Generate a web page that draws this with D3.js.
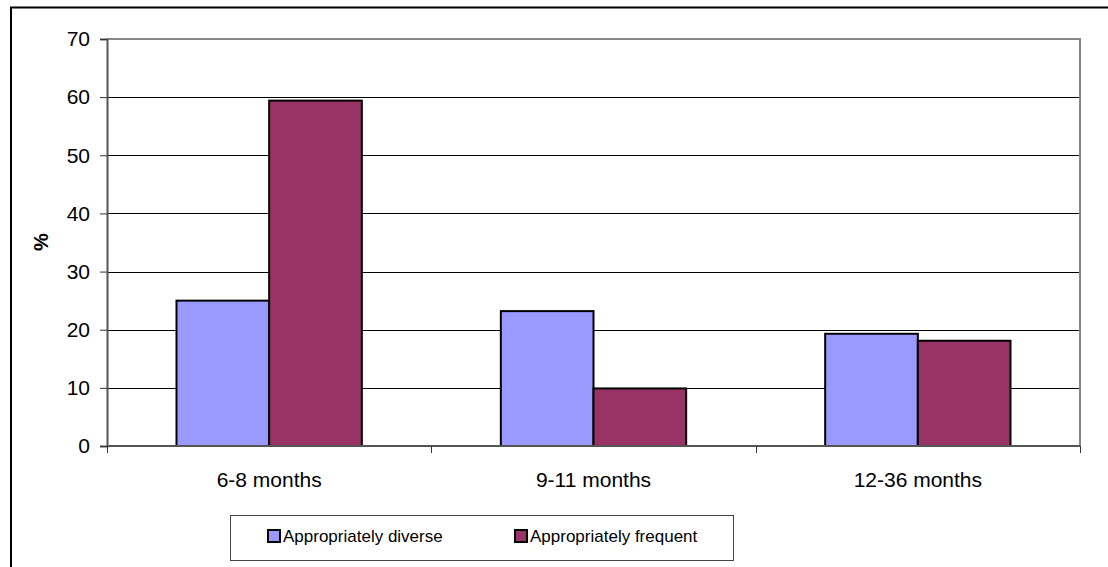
<!DOCTYPE html>
<html>
<head>
<meta charset="utf-8">
<script src="https://cdn.jsdelivr.net/npm/d3@7"></script>
<style>
  html, body { margin: 0; padding: 0; background: #fff; }
  svg { display: block; font-family: Arial, "Liberation Sans", sans-serif; }
</style>
</head>
<body>
<svg id="chart" width="1108" height="567"></svg>
<script>
// Age groups and the share (%) of children meeting each feeding indicator
const categories = ["6-8 months", "9-11 months", "12-36 months"];
const seriesNames = ["Appropriately diverse", "Appropriately frequent"];
const diverseValues = [25.0, 23.2, 19.3];
const frequentValues = [59.4, 9.9, 18.1];
const yTicks = [0, 10, 20, 30, 40, 50, 60, 70];
const seriesColors = ["#9999FF", "#993366"];

const rows = categories.map((c, i) => ({
  category: c,
  values: [
    { series: seriesNames[0], value: diverseValues[i] },
    { series: seriesNames[1], value: frequentValues[i] }
  ]
}));

const svg = d3.select("#chart");
const plot = { left: 107, right: 1080, top: 39, bottom: 446 };

const x0 = d3.scaleBand().domain(categories).range([plot.left, plot.right]).padding(0);
const x1 = d3.scaleBand().domain(seriesNames).range([0, x0.bandwidth()])
  .paddingInner(0).paddingOuter(0.75);
const y = d3.scaleLinear().domain([0, 70]).range([plot.bottom, plot.top]);
const color = d3.scaleOrdinal().domain(seriesNames).range(seriesColors);

// Outer chart frame (left and top edges fall inside the canvas)
svg.append("line").attr("x1", 11).attr("x2", 11).attr("y1", 7.5).attr("y2", 567)
  .attr("stroke", "#000").attr("stroke-width", 2);
svg.append("line").attr("x1", 10).attr("x2", 1108).attr("y1", 7.5).attr("y2", 7.5)
  .attr("stroke", "#000").attr("stroke-width", 2);

// Horizontal gridlines
svg.append("g")
  .selectAll("line")
  .data(yTicks.filter(t => t > 0 && t < 70))
  .join("line")
  .attr("x1", plot.left).attr("x2", plot.right)
  .attr("y1", d => Math.round(y(d)) + 0.5).attr("y2", d => Math.round(y(d)) + 0.5)
  .attr("stroke", "#000").attr("stroke-width", 1);

// Plot area border (top and right)
svg.append("path")
  .attr("d", `M${plot.left},${plot.top} H${plot.right} V${plot.bottom}`)
  .attr("fill", "none").attr("stroke", "#888").attr("stroke-width", 2);

// Bars
const groups = svg.append("g").selectAll("g")
  .data(rows)
  .join("g")
  .attr("transform", d => `translate(${x0(d.category)},0)`);

groups.selectAll("rect")
  .data(d => d.values)
  .join("rect")
  .attr("x", d => x1(d.series))
  .attr("y", d => y(d.value))
  .attr("width", x1.bandwidth())
  .attr("height", d => y(0) - y(d.value))
  .attr("fill", d => color(d.series))
  .attr("stroke", "#000")
  .attr("stroke-width", 2);

// Y axis
const yAxis = d3.axisLeft(y).tickValues(yTicks).tickSize(7).tickPadding(10).tickFormat(d3.format("d"));
const gy = svg.append("g").attr("transform", `translate(${plot.left},0)`).call(yAxis);
gy.select(".domain").attr("stroke", "#555").attr("stroke-width", 2);
gy.selectAll(".tick line").attr("stroke", "#333");
gy.selectAll(".tick text").attr("font-size", 21).attr("fill", "#000")
  .attr("font-family", "Arial, 'Liberation Sans', sans-serif");

// X axis with ticks at band boundaries
const xAxis = d3.axisBottom(x0).tickSize(0).tickPadding(26);
const gx = svg.append("g").attr("transform", `translate(0,${plot.bottom})`).call(xAxis);
gx.select(".domain").remove();
gx.selectAll(".tick text").attr("font-size", 21).attr("fill", "#000")
  .attr("font-family", "Arial, 'Liberation Sans', sans-serif");
const boundaries = categories.map(c => x0(c)).concat([x0(categories[categories.length - 1]) + x0.bandwidth()]);
svg.append("line").attr("x1", plot.left).attr("x2", plot.right)
  .attr("y1", plot.bottom).attr("y2", plot.bottom)
  .attr("stroke", "#555").attr("stroke-width", 2);
svg.append("g").selectAll("line")
  .data(boundaries)
  .join("line")
  .attr("x1", d => Math.round(d) + 0.5).attr("x2", d => Math.round(d) + 0.5)
  .attr("y1", plot.bottom).attr("y2", plot.bottom + 7)
  .attr("stroke", "#333").attr("stroke-width", 1);

// Y axis title
svg.append("text")
  .attr("transform", "translate(48,242) rotate(-90)")
  .attr("text-anchor", "middle")
  .attr("font-size", 20).attr("font-weight", "bold")
  .text("%");

// Legend
const legend = svg.append("g");
legend.append("rect")
  .attr("x", 230.5).attr("y", 515.5).attr("width", 503).attr("height", 45)
  .attr("fill", "#fff").attr("stroke", "#444").attr("stroke-width", 1);
const legendX = [268, 515];
const items = legend.selectAll("g.item")
  .data(seriesNames)
  .join("g").attr("class", "item")
  .attr("transform", (d, i) => `translate(${legendX[i]},0)`);
items.append("rect")
  .attr("x", 0).attr("y", 530).attr("width", 12).attr("height", 12)
  .attr("fill", d => color(d)).attr("stroke", "#000").attr("stroke-width", 2);
items.append("text")
  .attr("x", 15).attr("y", 542)
  .attr("font-size", 17).attr("fill", "#000")
  .text(d => d);
</script>
</body>
</html>
